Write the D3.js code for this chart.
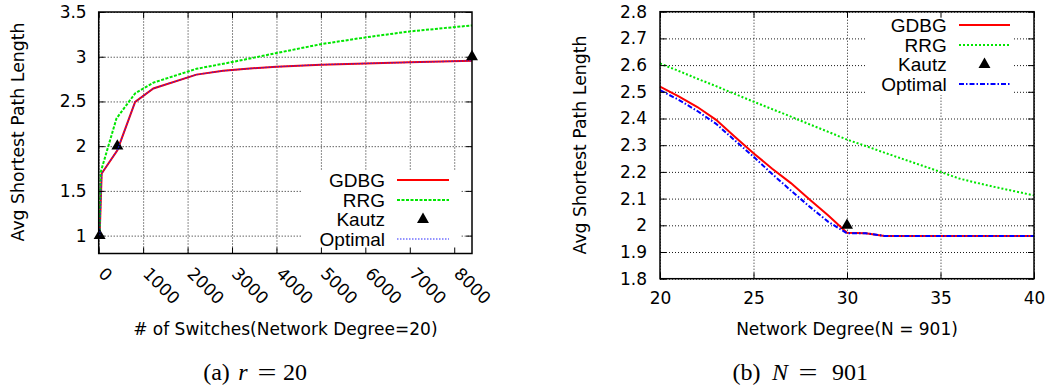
<!DOCTYPE html>
<html>
<head>
<meta charset="utf-8">
<script src="https://cdn.jsdelivr.net/npm/d3@7"></script>
<style>
  body { margin: 0; background: #fff; }
  text { font-family: "DejaVu Sans", sans-serif; fill: #000; }
  .legend text { font-family: "Liberation Sans", Arial, sans-serif; }
  .caption { font-family: "Liberation Serif", "Times New Roman", serif; }
</style>
</head>
<body>
<script>
// (a) r = 20 : avg shortest path length vs number of switches
const aSwitches = [21, 67, 420, 820, 1230, 2200, 2800, 3400, 4000, 5000, 6000, 7000, 8400];
const aGDBG = [1, 1.695, 1.955, 2.495, 2.645, 2.80, 2.842, 2.868, 2.888, 2.911, 2.925, 2.937, 2.955];
const aOptimal = [1, 1.695, 1.955, 2.495, 2.645, 2.80, 2.842, 2.868, 2.888, 2.911, 2.925, 2.937, 2.955];
const aRRGSwitches = [21, 45, 400, 820, 1230, 2200, 3000, 4000, 5000, 6000, 7000, 8400];
const aRRG = [1, 1.71, 2.31, 2.59, 2.71, 2.865, 2.94, 3.041, 3.14, 3.216, 3.283, 3.35];
const aKautzSwitches = [21, 420, 8400];
const aKautz = [1, 2, 3];
const aXTicks = [0, 1000, 2000, 3000, 4000, 5000, 6000, 7000, 8000];
const aYTicks = [1, 1.5, 2, 2.5, 3, 3.5];

// (b) N = 901 : avg shortest path length vs network degree
const bDegree = [20, 21, 22, 23, 24, 25, 26, 27, 28, 29, 30, 31, 32, 33, 34, 35, 36, 37, 38, 39, 40];
const bGDBG = [2.519, 2.483, 2.443, 2.395, 2.332, 2.27, 2.212, 2.158, 2.097, 2.037, 1.972, 1.97, 1.96, 1.96, 1.96, 1.96, 1.96, 1.96, 1.96, 1.96, 1.96];
const bOptimal = [2.506, 2.47, 2.428, 2.38, 2.318, 2.257, 2.192, 2.13, 2.07, 2.013, 1.97, 1.97, 1.96, 1.96, 1.96, 1.96, 1.96, 1.96, 1.96, 1.96, 1.96];
const bRRG = [2.606, 2.578, 2.549, 2.521, 2.492, 2.463, 2.435, 2.407, 2.378, 2.35, 2.321, 2.297, 2.272, 2.248, 2.224, 2.2, 2.175, 2.158, 2.142, 2.127, 2.112];
const bKautzDegree = [30];
const bKautz = [2.0];
const bXTicks = [20, 25, 30, 35, 40];
const bYTicks = [1.8, 1.9, 2.0, 2.1, 2.2, 2.3, 2.4, 2.5, 2.6, 2.7, 2.8];

const legendNames = ["GDBG", "RRG", "Kautz", "Optimal"];

const svg = d3.select("body").append("svg").attr("width", 1052).attr("height", 390);

const zip = (xs, ys) => xs.map((v, i) => [v, ys[i]]);

function drawPanel(o) {
  const g = svg.append("g");
  const x = d3.scaleLinear().domain(o.xDomain).range([o.left, o.right]);
  const y = d3.scaleLinear().domain(o.yDomain).range([o.bottom, o.top]);
  const h = o.bottom - o.top, w = o.right - o.left;

  //网格
  const grid = g.append("g").attr("class", "grid");
  grid.append("g").attr("transform", `translate(0,${o.bottom})`)
    .call(d3.axisBottom(x).tickValues(o.xTicks).tickSize(-h).tickFormat(""));
  grid.append("g").attr("transform", `translate(${o.left},0)`)
    .call(d3.axisLeft(y).tickValues(o.yTicks).tickSize(-w).tickFormat(""));
  grid.selectAll(".domain").remove();
  grid.selectAll("line").attr("stroke", "#3a3aff").attr("stroke-width", 1)
    .attr("stroke-dasharray", "1,2").attr("opacity", 0.9);

  //图例背景挡住网格
  g.append("rect").attr("x", o.legendBox[0]).attr("y", o.legendBox[1])
    .attr("width", o.legendBox[2]).attr("height", o.legendBox[3]).attr("fill", "#fff");

  const line = d3.line().x(d => x(d[0])).y(d => y(d[1]));
  o.series.forEach(s => {
    if (s.symbol) {
      g.selectAll(null).data(s.data).enter().append("path")
        .attr("d", d3.symbol(d3.symbolTriangle, 62))
        .attr("transform", d => `translate(${x(d[0])},${y(d[1])})`)
        .attr("fill", "#000");
    } else {
      g.append("path").datum(s.data).attr("d", line).attr("fill", "none")
        .attr("stroke", s.color).attr("stroke-width", s.width)
        .attr("stroke-dasharray", s.dash || null).attr("opacity", s.opacity || 1);
    }
  });

  //边框与刻度（四边都有，朝内）
  g.append("rect").attr("x", o.left).attr("y", o.top).attr("width", w).attr("height", h)
    .attr("fill", "none").attr("stroke", "#000").attr("stroke-width", 1.5);
  g.append("g").attr("transform", `translate(0,${o.bottom})`)
    .call(d3.axisBottom(x).tickValues(o.xTicks).tickSize(-6).tickPadding(o.xPad)
      .tickFormat(o.rotateX ? "" : d => String(d)));
  g.append("g").attr("transform", `translate(0,${o.top})`)
    .call(d3.axisTop(x).tickValues(o.xTicks).tickSize(-6).tickFormat(""));
  g.append("g").attr("transform", `translate(${o.left},0)`)
    .call(d3.axisLeft(y).tickValues(o.yTicks).tickSize(-6).tickPadding(o.yPad).tickFormat(d => String(d)));
  g.append("g").attr("transform", `translate(${o.right},0)`)
    .call(d3.axisRight(y).tickValues(o.yTicks).tickSize(-6).tickFormat(""));
  g.selectAll(".domain").remove();
  g.selectAll(".tick line").attr("stroke", "#000").attr("stroke-width", 1);
  g.selectAll(".tick text").attr("font-size", 17).attr("font-family", null);

  if (o.rotateX) {
    g.selectAll(null).data(o.xTicks).enter().append("text")
      .attr("transform", d => `translate(${x(d) + 3},${o.bottom + 17}) rotate(45)`)
      .attr("dy", "0.35em").attr("font-size", 17).text(d => String(d));
  }

  g.append("text").attr("x", (o.left + o.right) / 2).attr("y", 335)
    .attr("text-anchor", "middle").attr("font-size", 17).text(o.xTitle);
  g.append("text").attr("transform", `translate(${o.yTitleX},${o.yTitleY}) rotate(-90)`)
    .attr("text-anchor", "middle").attr("dy", "0.35em").attr("font-size", 17.3).text(o.yTitle);

  //图例
  const lg = g.append("g").attr("class", "legend");
  o.series.forEach((s, i) => {
    const ly = o.legendY[i];
    lg.append("text").attr("x", o.legendText).attr("y", ly).attr("dy", "0.36em")
      .attr("text-anchor", "end").attr("font-size", 19).text(legendNames[i]);
    if (s.symbol) {
      lg.append("path").attr("d", d3.symbol(d3.symbolTriangle, 62))
        .attr("transform", `translate(${(o.legendLine[0] + o.legendLine[1]) / 2},${ly})`);
    } else {
      lg.append("line").attr("x1", o.legendLine[0]).attr("x2", o.legendLine[1])
        .attr("y1", ly).attr("y2", ly).attr("stroke", s.legendColor || s.color)
        .attr("stroke-width", s.width).attr("stroke-dasharray", s.dash || null);
    }
  });

  //图注：各部分分别放置（公式间距较宽）
  o.caption.forEach(c => {
    const t = g.append("text").attr("class", "caption").attr("x", c[1]).attr("y", 380)
      .attr("text-anchor", "middle").attr("font-size", 24)
      .attr("font-style", c[2] ? "italic" : null).text(c[0]);
    if (c[0] === "=") t.attr("textLength", 19).attr("lengthAdjust", "spacingAndGlyphs");
  });
}

drawPanel({
  left: 98.7, right: 472, top: 12, bottom: 253.5,
  xDomain: [0, 8400], yDomain: [0.8, 3.5],
  xTicks: aXTicks, yTicks: aYTicks, xPad: 10, yPad: 12, rotateX: true,
  xTitle: "# of Switches(Network Degree=20)", yTitle: "Avg Shortest Path Length",
  yTitleX: 18, yTitleY: 132,
  legendBox: [302, 170, 158, 83], legendText: 385, legendLine: [397, 449],
  legendY: [180, 200, 219.5, 239],
  series: [
    { data: zip(aSwitches, aGDBG), color: "#ff0000", width: 2 },
    { data: zip(aRRGSwitches, aRRG), color: "#00e600", width: 2, dash: "3,1.5" },
    { data: zip(aKautzSwitches, aKautz), symbol: true },
    { data: zip(aSwitches, aOptimal), color: "#2020ff", width: 1.3, dash: "1.5,1.5", opacity: 0.8, legendColor: "#7070ff" }
  ],
  caption: [["(a)", 216.5], ["r", 243, true], ["=", 267], ["20", 295]]
});

drawPanel({
  left: 660, right: 1034, top: 11.7, bottom: 278.7,
  xDomain: [20, 40], yDomain: [1.8, 2.8],
  xTicks: bXTicks, yTicks: bYTicks, xPad: 13, yPad: 13, rotateX: false,
  xTitle: "Network Degree(N = 901)", yTitle: "Avg Shortest Path Length",
  yTitleX: 580, yTitleY: 145,
  legendBox: [865, 13, 148, 82], legendText: 946.7, legendLine: [959, 1010],
  legendY: [25, 45, 64.5, 84],
  series: [
    { data: zip(bDegree, bGDBG), color: "#ff0000", width: 2 },
    { data: zip(bDegree, bRRG), color: "#00e600", width: 2, dash: "2,2" },
    { data: zip(bKautzDegree, bKautz), symbol: true },
    { data: zip(bDegree, bOptimal), color: "#0000ff", width: 2, dash: "5,2,1.5,2" }
  ],
  caption: [["(b)", 746.5], ["N", 780, true], ["=", 808], ["901", 850]]
});
</script>
</body>
</html>
